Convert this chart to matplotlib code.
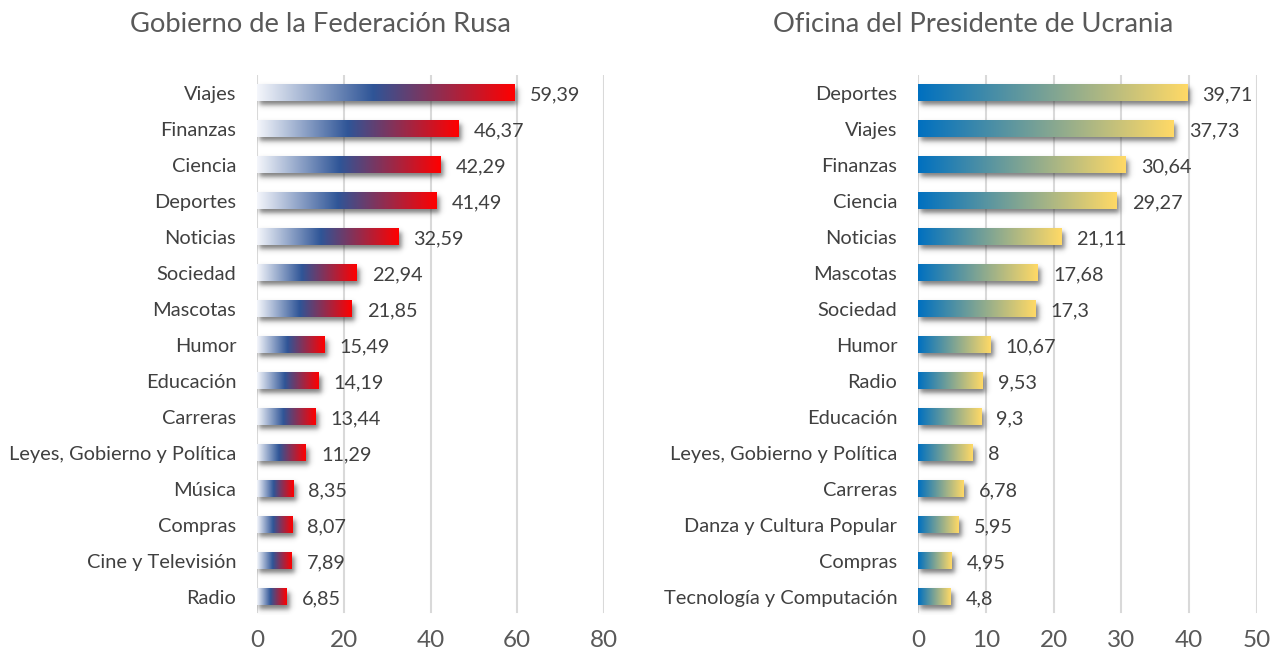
import numpy as np
import matplotlib
matplotlib.use("Agg")
import matplotlib.pyplot as plt
from matplotlib.colors import LinearSegmentedColormap

plt.rcParams['font.family'] = ['Lato', 'DejaVu Sans']

ru_title = "Gobierno de la Federación Rusa"
ru_categories = ["Viajes", "Finanzas", "Ciencia", "Deportes", "Noticias", "Sociedad",
                 "Mascotas", "Humor", "Educación", "Carreras", "Leyes, Gobierno y Política",
                 "Música", "Compras", "Cine y Televisión", "Radio"]
ru_values = [59.39, 46.37, 42.29, 41.49, 32.59, 22.94, 21.85, 15.49, 14.19, 13.44,
             11.29, 8.35, 8.07, 7.89, 6.85]
ru_ticks = [0, 20, 40, 60, 80]

ua_title = "Oficina del Presidente de Ucrania"
ua_categories = ["Deportes", "Viajes", "Finanzas", "Ciencia", "Noticias", "Mascotas",
                 "Sociedad", "Humor", "Radio", "Educación", "Leyes, Gobierno y Política",
                 "Carreras", "Danza y Cultura Popular", "Compras", "Tecnología y Computación"]
ua_values = [39.71, 37.73, 30.64, 29.27, 21.11, 17.68, 17.3, 10.67, 9.53, 9.3, 8,
             6.78, 5.95, 4.95, 4.8]
ua_ticks = [0, 10, 20, 30, 40, 50]

ru_cmap = LinearSegmentedColormap.from_list(
    "ru", [(0.0, "#F4F6FB"), (0.45, "#2F5597"), (1.0, "#FF0000")])
ua_cmap = LinearSegmentedColormap.from_list(
    "ua", [(0.0, "#0070C0"), (1.0, "#FFD966")])


def fmt(v):
    s = ("%.2f" % v).rstrip("0").rstrip(".")
    return s.replace(".", ",")


def draw(ax, cats, vals, ticks, cmap, ax_w_px):
    n = len(cats)
    ys = np.arange(n)
    h = 0.47
    grad = np.linspace(0, 1, 256).reshape(1, -1)
    xmax = ticks[-1]
    px_x = xmax / ax_w_px      # data units per pixel (x)
    px_y = 1.0 / 36.0          # data units per pixel (y)
    for y, v in zip(ys, vals):
        # blurred shadow
        sx0, sx1 = 0 + 2 * px_x, v + 3 * px_x
        sy0, sy1 = y - h / 2 + 4 * px_y, y + h / 2 + 4 * px_y
        ex0, ex1 = sx0 - 12 * px_x, sx1 + 12 * px_x
        ey0, ey1 = sy0 - 12 * px_y, sy1 + 12 * px_y
        xs = np.linspace(ex0, ex1, 200)
        yy = np.linspace(ey0, ey1, 60)
        wx, wy = 3.0 * px_x, 3.0 * px_y
        fx = 0.5 * (np.tanh((xs - sx0) / wx) - np.tanh((xs - sx1) / wx))
        fy = 0.5 * (np.tanh((yy - sy0) / wy) - np.tanh((yy - sy1) / wy))
        alpha = 0.6 * np.outer(fy, fx)
        img = np.zeros((len(yy), len(xs), 4))
        img[..., 0:3] = 0.15
        img[..., 3] = alpha
        ax.imshow(img, aspect="auto", extent=[ex0, ex1, ey0, ey1], origin="lower",
                  zorder=2, interpolation="bilinear")
        ax.imshow(grad, cmap=cmap, aspect="auto",
                  extent=[0, v, y + h / 2, y - h / 2], zorder=3, interpolation="bilinear")
        ax.annotate(fmt(v), (v, y), xytext=(11, -1), textcoords="offset points",
                    va="center", ha="left", fontsize=14.3, color="#404040", zorder=4)
    ax.set_xlim(0, xmax)
    ax.set_ylim(n - 0.5, -0.5)
    ax.set_yticks(ys)
    ax.set_yticklabels(cats, fontsize=14.4, color="#404040")
    ax.set_xticks(ticks)
    ax.set_xticklabels([str(t) for t in ticks], fontsize=17.5, color="#595959")
    ax.tick_params(axis="both", length=0)
    ax.tick_params(axis="y", pad=15)
    ax.tick_params(axis="x", pad=11)
    for sp in ax.spines.values():
        sp.set_visible(False)
    for t in ticks:
        ax.axvline(t, color="#D9D9D9", lw=1.5, zorder=1, ymin=0.005)
    ax.set_facecolor("white")


fig = plt.figure(figsize=(12.73, 6.57), dpi=100)
ax1 = fig.add_axes([257 / 1273, 1 - 615 / 657, 347 / 1273, 540 / 657])
ax2 = fig.add_axes([918 / 1273, 1 - 615 / 657, 339 / 1273, 540 / 657])
draw(ax1, ru_categories, ru_values, ru_ticks, ru_cmap, 347)
draw(ax2, ua_categories, ua_values, ua_ticks, ua_cmap, 339)

fig.text(320 / 1273, 1 - 24 / 657, ru_title, ha="center", va="center",
         fontsize=19.7, color="#595959")
fig.text(973 / 1273, 1 - 24 / 657, ua_title, ha="center", va="center",
         fontsize=19.7, color="#595959")

fig.savefig("out.png", dpi=100, facecolor="white")
